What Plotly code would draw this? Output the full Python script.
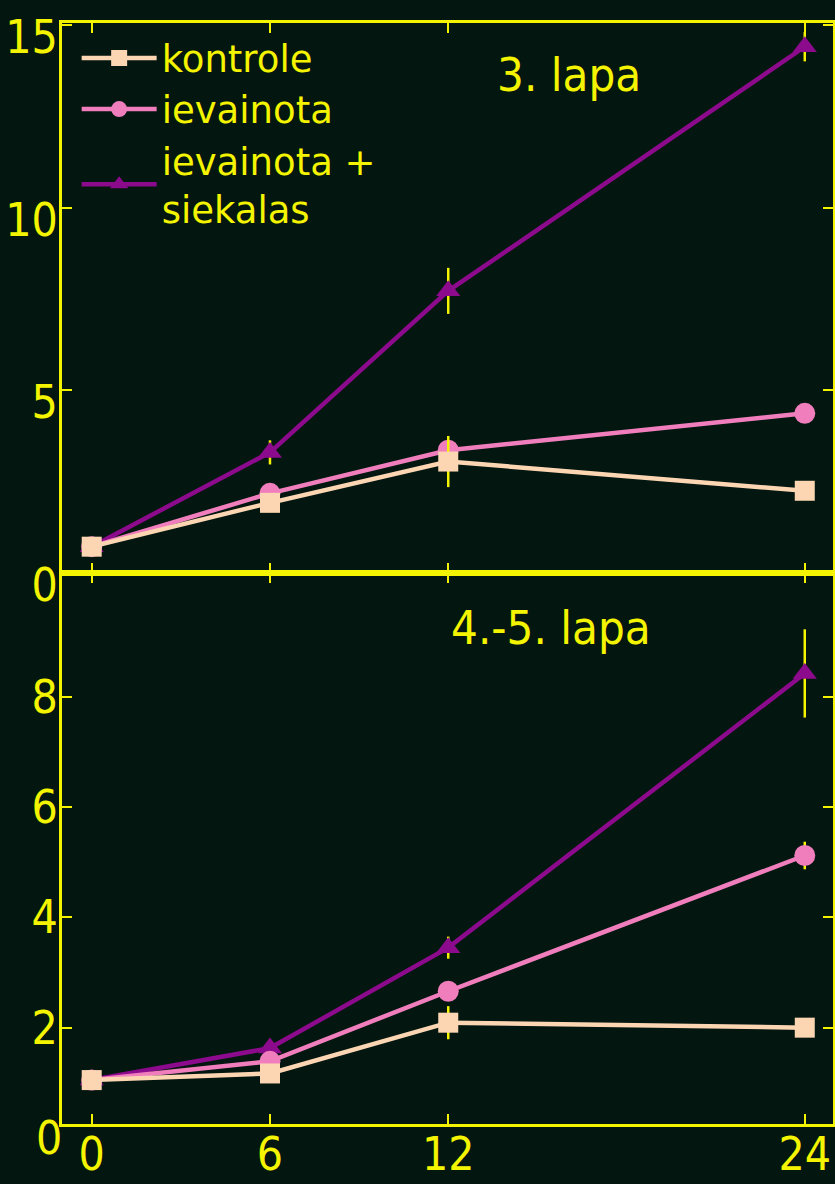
import plotly.graph_objects as go
from plotly.subplots import make_subplots

hours = [0, 6, 12, 24]
x_ticks = [0, 6, 12, 24]

# Panel 1: "3. lapa"
top_kontrole = [0.72, 1.92, 3.05, 2.25]
top_ievainota = [0.72, 2.18, 3.36, 4.37]
top_siekalas = [0.72, 3.30, 7.72, 14.40]
top_kontrole_err = [0, 0, 0.70, 0]
top_ievainota_err = [0, 0, 0, 0]
top_siekalas_err = [0, 0.33, 0.63, 0.40]

# Panel 2: "4.-5. lapa"
bot_kontrole = [1.05, 1.17, 2.09, 2.0]
bot_ievainota = [1.05, 1.39, 2.66, 5.12]
bot_siekalas = [1.05, 1.63, 3.45, 8.42]
bot_kontrole_err = [0, 0, 0.30, 0]
bot_ievainota_err = [0, 0, 0, 0.25]
bot_siekalas_err = [0, 0, 0.20, 0.80]

names = ["kontrole", "ievainota", "ievainota +<br>siekalas"]
panel_titles = ["3. lapa", "4.-5. lapa"]
top_yticks = [0, 5, 10, 15]
bot_yticks = [0, 2, 4, 6, 8]

BG = "#03160f"
YEL = "#f4f400"
C_K = "#fcd6b3"
C_I = "#f07ebd"
C_S = "#8c0a8c"
NARROW = "Liberation Sans Narrow, DejaVu Sans Condensed, Liberation Sans, sans-serif"
LEGFONT = "DejaVu Sans, sans-serif"
TICKSIZE = 46

top_range = [0, 15.05]
bot_range = [0.254, 10.24]

fig = make_subplots(rows=2, cols=1, shared_xaxes=True, vertical_spacing=0)

series = [
    (names[2], C_S, "triangle-up", top_siekalas, top_siekalas_err, bot_siekalas, bot_siekalas_err, 21),
    (names[1], C_I, "circle", top_ievainota, top_ievainota_err, bot_ievainota, bot_ievainota_err, 21),
    (names[0], C_K, "square", top_kontrole, top_kontrole_err, bot_kontrole, bot_kontrole_err, 20),
]
for name, col, sym, ty, te, by, be, ms in series:
    for row, yy, ee, show in [(1, ty, te, True), (2, by, be, False)]:
        fig.add_trace(go.Scatter(
            x=hours, y=yy, name=name, mode="lines+markers",
            line=dict(color=col, width=4.5),
            marker=dict(symbol=sym, size=ms, color=col),
            error_y=dict(type="data", array=ee, visible=True, color=YEL, thickness=2.5, width=0),
            showlegend=show, legendrank={"kontrole": 1, "ievainota": 2}.get(name, 3),
            cliponaxis=False,
        ), row=row, col=1)

axis_common = dict(showline=True, linecolor=YEL, linewidth=3, mirror="ticks",
                   ticks="inside", tickcolor=YEL, tickwidth=2, ticklen=10,
                   showgrid=False, zeroline=False, automargin=False,
                   tickfont=dict(family=NARROW, size=TICKSIZE, color=YEL))

fig.update_xaxes(**axis_common, range=[-1.0, 24.95], tickvals=x_ticks, ticklabelstandoff=-12)
fig.update_xaxes(showticklabels=False, row=1, col=1)
fig.update_yaxes(**axis_common, ticklabelstandoff=-8)
fig.update_yaxes(range=top_range, tickvals=top_yticks, ticklabelshift=12, row=1, col=1)
fig.update_yaxes(range=bot_range, tickvals=bot_yticks, row=2, col=1)

split = 551 / 1101
fig.update_layout(yaxis=dict(domain=[split, 1]), yaxis2=dict(domain=[0, split]))

# tick label "0" of the lower panel lies just below its axis line
fig.add_annotation(text=str(bot_yticks[0]), xref="paper", x=0, xanchor="right", xshift=2,
                   yref="y2 domain", y=(bot_yticks[0] - bot_range[0]) / (bot_range[1] - bot_range[0]),
                   yanchor="middle", showarrow=False,
                   font=dict(family=NARROW, size=TICKSIZE, color=YEL))

fig.add_annotation(text=panel_titles[0], xref="paper", yref="paper", x=0.658, y=0.953,
                   xanchor="center", yanchor="middle",
                   showarrow=False, font=dict(family=NARROW, size=47, color=YEL))
fig.add_annotation(text=panel_titles[1], xref="paper", yref="paper", x=0.634, y=0.4505,
                   xanchor="center", yanchor="middle",
                   showarrow=False, font=dict(family=NARROW, size=47, color=YEL))

fig.update_layout(
    width=835, height=1184,
    paper_bgcolor=BG, plot_bgcolor=BG,
    margin=dict(l=62, r=2, t=23, b=60, autoexpand=False),
    legend=dict(x=0.019, y=0.996, xanchor="left", yanchor="top",
                bgcolor="rgba(0,0,0,0)", font=dict(family=LEGFONT, size=37, color=YEL),
                itemwidth=75, tracegroupgap=0, traceorder="normal"),
)

fig.write_html("out.html", config={"displayModeBar": False},
               post_script="document.body.style.margin='0';document.body.style.background='#03160f';")
